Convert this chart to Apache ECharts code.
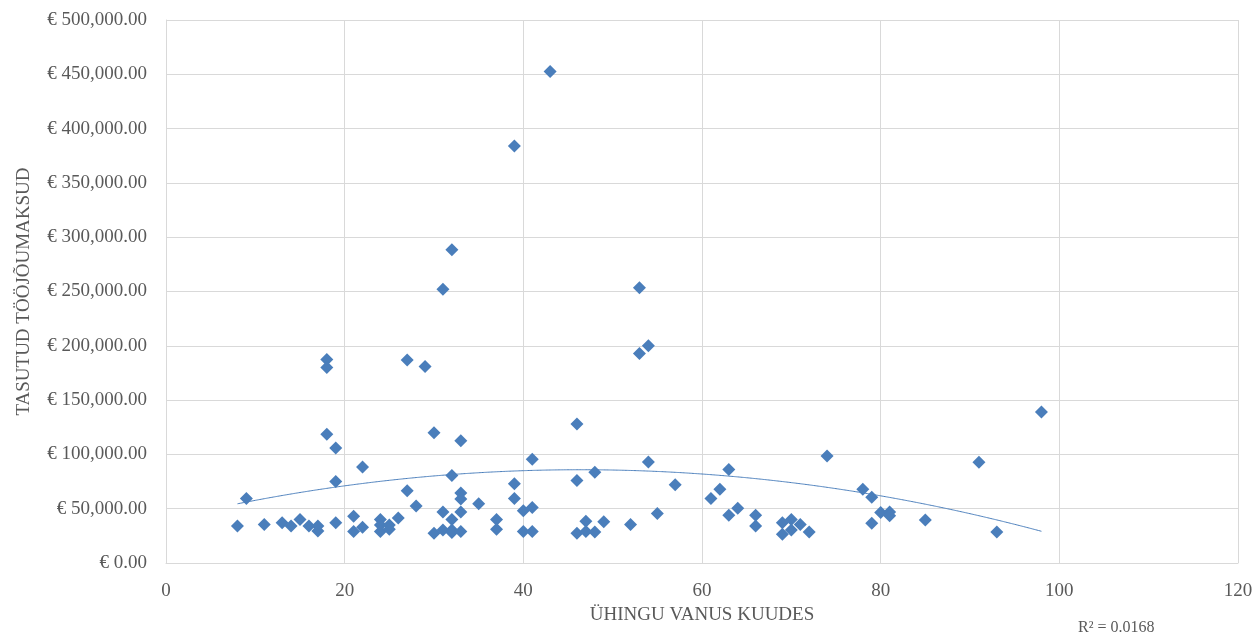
<!DOCTYPE html>
<html>
<head>
<meta charset="utf-8">
<script src="https://cdn.jsdelivr.net/npm/echarts@6/dist/echarts.min.js"></script>
<style>html,body{margin:0;padding:0;background:#fff}#c{width:1257px;height:636px}</style>
</head>
<body>
<div id="c"></div>
<script>
// Company age in months (x) and paid labour taxes in EUR (y)
const ages = [8,9,11,13,14,15,16,17,17,18,18,18,19,19,19,21,21,22,22,24,24,24,25,25,26,27,27,28,29,30,30,31,31,31,32,32,32,32,32,33,33,33,33,33,35,37,37,39,39,39,40,40,41,41,41,43,46,46,46,47,47,48,48,49,52,53,53,54,54,55,57,61,62,63,63,64,66,66,69,69,70,70,71,72,74,78,79,79,80,81,81,85,91,93,98];
const taxes = [34000,59500,35500,37000,34000,40000,34000,34000,29500,187500,180000,118500,106000,75000,37000,43000,29000,88500,33000,40000,35000,29000,31000,35000,41500,187000,66500,52500,181000,120000,27500,252000,47000,30500,288500,80500,40000,30500,28000,112500,64500,59000,47000,29000,54500,40000,31000,384000,73000,59500,48000,29000,95500,51000,29000,452500,128000,76000,27500,38500,29000,83500,28500,38000,35500,253500,193000,200000,93000,45500,72000,59500,68000,86000,44000,50500,44000,34000,37000,26500,40000,30500,35500,28500,98500,68000,60500,36500,46500,47000,43500,39500,92800,28500,139000];
const xTicks = [0,20,40,60,80,100,120];
const yTicks = [0,50000,100000,150000,200000,250000,300000,350000,400000,450000,500000];
const r2Label = 'R² = 0.0168';
const xName = 'ÜHINGU VANUS KUUDES';
const yName = 'TASUTUD TÖÖJÕUMAKSUD';

// least-squares quadratic trendline computed from the data
function polyFit2(xs, ys) {
  let S = [0,0,0,0,0], T = [0,0,0];
  for (let i = 0; i < xs.length; i++) {
    const x = xs[i], y = ys[i];
    let p = 1;
    for (let k = 0; k < 5; k++) { S[k] += p; if (k < 3) T[k] += p * y; p *= x; }
  }
  const A = [[S[0],S[1],S[2],T[0]],[S[1],S[2],S[3],T[1]],[S[2],S[3],S[4],T[2]]];
  for (let i = 0; i < 3; i++) {
    for (let j = i + 1; j < 3; j++) {
      const f = A[j][i] / A[i][i];
      for (let k = i; k < 4; k++) A[j][k] -= f * A[i][k];
    }
  }
  const c = [0,0,0];
  for (let i = 2; i >= 0; i--) {
    let s = A[i][3];
    for (let k = i + 1; k < 3; k++) s -= A[i][k] * c[k];
    c[i] = s / A[i][i];
  }
  return c;
}
const coef = polyFit2(ages, taxes);
const xMin = Math.min(...ages), xMax = Math.max(...ages);
const trend = [];
for (let x = xMin; x <= xMax + 1e-9; x += 0.5) trend.push([x, coef[0] + coef[1]*x + coef[2]*x*x]);

const points = ages.map((a, i) => [a, taxes[i]]);
const font = 'Liberation Serif';
const chart = echarts.init(document.getElementById('c'));
chart.setOption({
  animation: false,
  textStyle: { fontFamily: font },
  grid: { left: 166, right: 19, top: 20, bottom: 73, containLabel: false },
  xAxis: {
    type: 'value', min: xTicks[0], max: xTicks[xTicks.length-1], interval: 20,
    name: xName, nameLocation: 'middle', nameGap: 41,
    nameTextStyle: { fontFamily: font, fontSize: 19, color: '#595959' },
    axisLine: { show: true, lineStyle: { color: '#d9d9d9', width: 1 } },
    axisTick: { show: false },
    axisLabel: { fontFamily: font, fontSize: 19, color: '#595959', margin: 19 },
    splitLine: { show: true, lineStyle: { color: '#d9d9d9', width: 1 } }
  },
  yAxis: {
    type: 'value', min: yTicks[0], max: yTicks[yTicks.length-1], interval: 50000,
    name: yName, nameLocation: 'middle', nameGap: 132, nameRotate: 90,
    nameTextStyle: { fontFamily: font, fontSize: 19, color: '#595959' },
    axisLine: { show: true, lineStyle: { color: '#d9d9d9', width: 1 } },
    axisTick: { show: false },
    axisLabel: {
      fontFamily: font, fontSize: 19, color: '#595959', margin: 19,
      formatter: v => '€ ' + v.toLocaleString('en-US', { minimumFractionDigits: 2, maximumFractionDigits: 2 })
    },
    splitLine: { show: true, lineStyle: { color: '#d9d9d9', width: 1 } }
  },
  series: [
    {
      type: 'scatter', data: points, symbol: 'diamond', symbolSize: 13,
      itemStyle: { color: '#4a7ebb', opacity: 1 }, z: 3
    },
    {
      type: 'line', data: trend, showSymbol: false, symbol: 'none', smooth: true,
      lineStyle: { color: '#4a7ebb', width: 1 }, z: 2, silent: true
    }
  ],
  graphic: [{
    type: 'text', left: 1078, top: 620,
    style: { text: r2Label, fontFamily: font, fontSize: 16, fill: '#595959' }
  }]
});
</script>
</body>
</html>
